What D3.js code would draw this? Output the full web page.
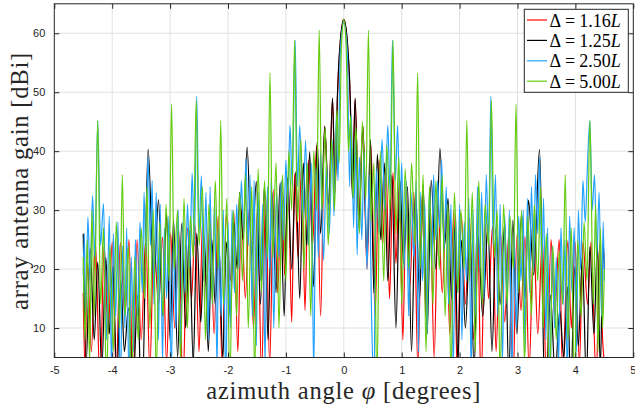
<!DOCTYPE html>
<html>
<head>
<meta charset="utf-8">
<script src="https://cdn.jsdelivr.net/npm/d3@7/dist/d3.min.js"></script>
<style>
  body { margin: 0; background: #fff; }
  svg { display: block; }
</style>
</head>
<body>
<script>
// tick values
const xTicks = [-5, -4, -3, -2, -1, 0, 1, 2, 3, 4, 5]
const yTicks = [10, 20, 30, 40, 50, 60]

// legend entries
const labels = ['1.16', '1.25', '2.50', '5.00']

// [azimuth deg, gain dBi] (peaks and nulls)
const red116 = [
  [-4.5,16],[-4.47,3],[-4.43,21],[-4.36,6],[-4.29,24.4],[-4.21,0],[-4.14,24],[-4.07,9],[-4.0,24.6],[-3.93,2],
  [-3.86,24.5],[-3.78,12],[-3.71,25],[-3.64,0],[-3.57,25],[-3.5,8],[-3.42,25.2],[-3.35,3],[-3.28,25],[-3.2,14],
  [-3.13,25.4],[-3.06,4],[-2.99,26],[-2.92,10],[-2.85,26.5],[-2.78,0],[-2.7,27],[-2.63,15],[-2.57,27.5],[-2.5,6],
  [-2.44,28],[-2.37,17],[-2.31,28.4],[-2.24,9],[-2.17,29],[-2.1,3],[-2.03,29.3],[-1.96,18],[-1.9,29.7],[-1.83,6],
  [-1.77,30],[-1.7,15],[-1.63,30.5],[-1.56,10],[-1.49,30.5],[-1.42,2],[-1.35,32.5],[-1.28,4],[-1.21,33.5],[-1.14,16],
  [-1.08,34.8],[-1.02,19],[-0.96,35.5],[-0.9,11],[-0.85,36.2],[-0.79,22],[-0.73,37.5],[-0.67,13],[-0.61,38.5],[-0.54,24],
  [-0.47,41],[-0.4,12],[-0.33,44.2],[-0.26,30],[-0.195,48.8],[-0.15,33],[-0.11,49],[-0.06,58.5],[0,62.3],
  [0.06,58.5],[0.11,49],[0.15,33],[0.195,48.8],[0.26,29],[0.33,44.2],[0.4,20],[0.47,41],[0.54,12],[0.61,38.5],
  [0.67,24],[0.73,37.2],[0.79,15],[0.85,36.4],[0.9,21],[0.96,35.2],[1.02,8],[1.08,34.5],[1.14,17],[1.21,33],
  [1.28,3],[1.35,32.4],[1.42,12],[1.49,31.5],[1.56,5],[1.63,30.8],[1.7,16],[1.77,30.2],[1.83,9],[1.9,30],
  [1.96,2],[2.03,29.2],[2.1,14],[2.17,28.6],[2.24,8],[2.31,28.3],[2.37,0],[2.44,27.8],[2.5,15],[2.57,27.3],
  [2.63,6],[2.7,26.8],[2.78,11],[2.85,26.2],[2.92,0],[2.99,25.8],[3.06,13],[3.13,25.5],[3.2,3],[3.28,25.3],
  [3.35,9],[3.43,25.2],[3.5,0],[3.58,25],[3.64,12],[3.72,25],[3.78,2],[3.87,24.8],[3.93,10],[3.99,24.8],
  [4.07,4],[4.13,24.6],[4.21,14],[4.27,24.6],[4.36,1],[4.42,24.4],[4.47,8],[4.5,4]
]

const black125 = [
  [-4.5,26],[-4.45,4],[-4.38,23.5],[-4.31,8],[-4.25,21.2],[-4.18,3],[-4.11,22],[-4.05,9],[-3.99,20.4],[-3.92,2],
  [-3.85,18.1],[-3.79,6],[-3.72,13.4],[-3.64,0],[-3.56,15.6],[-3.49,-5],[-3.38,40.3],[-3.28,18],[-3.2,31.8],[-3.13,12],
  [-3.06,29.4],[-3.0,8],[-2.94,28.3],[-2.87,5],[-2.8,27.7],[-2.73,10],[-2.67,26.5],[-2.6,4],[-2.54,26.1],[-2.47,11],
  [-2.41,25.5],[-2.34,6],[-2.28,25],[-2.22,14],[-2.16,24.8],[-2.09,5],[-2.03,24.6],[-1.96,12],[-1.9,28],[-1.84,20],
  [-1.8,33],[-1.74,25],[-1.67,40.7],[-1.59,22],[-1.51,34.9],[-1.44,14],[-1.37,34.2],[-1.31,8],[-1.24,33],[-1.17,16],
  [-1.1,34.6],[-1.03,12],[-0.97,35.5],[-0.9,20],[-0.83,36.5],[-0.76,15],[-0.7,38],[-0.64,24],[-0.59,39.9],[-0.52,17],
  [-0.46,41.6],[-0.4,26],[-0.33,44.2],[-0.26,31],[-0.195,49],[-0.15,34],[-0.11,49.5],[-0.06,58.7],[0,62.3],
  [0.06,58.7],[0.11,49.5],[0.15,32],[0.195,49],[0.26,27],[0.33,44.2],[0.4,22],[0.46,42],[0.52,16],[0.58,39.5],
  [0.64,25],[0.7,38],[0.76,18],[0.83,36],[0.9,10],[0.97,35],[1.03,21],[1.1,34],[1.17,6],[1.24,33],
  [1.31,15],[1.37,34.3],[1.44,9],[1.51,35.1],[1.59,20],[1.66,40.5],[1.74,24],[1.8,32],[1.86,15],[1.92,27],
  [1.97,4],[2.03,24.9],[2.1,10],[2.18,26.1],[2.25,3],[2.32,25.5],[2.4,12],[2.49,27.5],[2.56,6],[2.63,27],
  [2.7,14],[2.78,27.8],[2.85,2],[2.92,28.3],[2.99,9],[3.07,29.4],[3.13,15],[3.19,31.7],[3.28,19],[3.38,40.3],
  [3.48,-5],[3.57,15.6],[3.65,2],[3.73,13],[3.8,5],[3.86,17],[3.92,0],[3.99,20.4],[4.05,7],[4.12,22],
  [4.19,1],[4.25,23.8],[4.32,9],[4.38,24.3],[4.43,3],[4.48,24.5],[4.5,20]
]

const blue250 = [
  [-4.5,19],[-4.48,26],[-4.46,12],[-4.42,28.8],[-4.38,18],[-4.34,32.5],[-4.3,22],[-4.25,45.2],[-4.2,24],[-4.15,31.1],
  [-4.1,8],[-4.05,29],[-4.01,2],[-3.98,26],[-3.94,12],[-3.9,28],[-3.86,-2],[-3.82,24],[-3.78,10],[-3.75,27],
  [-3.71,0],[-3.67,22],[-3.63,6],[-3.6,25],[-3.56,12],[-3.52,28],[-3.48,16],[-3.45,33],[-3.42,22],[-3.38,39],
  [-3.34,24],[-3.31,35],[-3.28,14],[-3.24,33],[-3.2,8],[-3.17,31],[-3.13,4],[-3.1,27],[-3.06,15],[-3.02,29],
  [-2.98,2],[-2.94,26],[-2.9,10],[-2.86,30],[-2.82,6],[-2.78,28],[-2.74,16],[-2.7,31],[-2.66,20],[-2.62,36.3],
  [-2.58,24],[-2.54,49.3],[-2.5,26],[-2.46,35.8],[-2.42,18],[-2.38,33],[-2.34,8],[-2.31,34],[-2.27,14],[-2.23,32],
  [-2.19,3],[-2.16,27],[-2.12,12],[-2.08,30],[-2.04,0],[-2.0,28],[-1.96,10],[-1.93,30],[-1.89,16],[-1.85,31],
  [-1.81,20],[-1.77,35],[-1.73,26],[-1.69,38.8],[-1.65,24],[-1.62,36],[-1.58,12],[-1.55,35],[-1.51,7],[-1.48,33],
  [-1.44,18],[-1.4,31],[-1.36,4],[-1.32,34],[-1.28,20],[-1.25,36],[-1.21,10],[-1.16,33],[-1.12,22],[-1.08,35],
  [-1.04,25],[-1.0,38.5],[-0.97,30],[-0.93,44.4],[-0.89,34],[-0.84,58.8],[-0.8,34],[-0.76,44.4],[-0.71,28],[-0.66,41.8],
  [-0.61,24],[-0.56,38],[-0.52,2],[-0.48,37],[-0.44,22],[-0.4,40],[-0.35,21.5],[-0.3,38],[-0.25,26],[-0.2,42],
  [-0.17,29],[-0.13,46],[-0.1,35],[-0.06,57],[0,61.8],
  [0.06,57],[0.1,34],[0.13,46],[0.17,27],[0.2,42],[0.23,22.4],[0.27,39],[0.31,25],[0.35,40],[0.4,20],
  [0.44,36],[0.48,12],[0.52,0],[0.56,37],[0.61,26],[0.66,42],[0.71,30],[0.76,44.4],[0.8,33],[0.84,58.8],
  [0.89,35],[0.93,44.4],[0.97,28],[1.0,38],[1.04,20],[1.08,35],[1.12,12],[1.16,33],[1.21,22],[1.25,35],
  [1.29,6],[1.32,33],[1.36,18],[1.4,31],[1.44,9],[1.48,34],[1.52,20],[1.55,36],[1.59,25],[1.62,35],
  [1.66,27],[1.69,38.5],[1.73,23],[1.77,34],[1.81,14],[1.85,31],[1.89,3],[1.93,29],[1.97,16],[2.0,31],
  [2.04,8],[2.08,28],[2.12,18],[2.16,32],[2.2,2],[2.23,30],[2.27,12],[2.31,34],[2.35,20],[2.38,33],
  [2.42,15],[2.46,36],[2.5,25],[2.54,49.3],[2.58,24],[2.62,36],[2.66,12],[2.7,31],[2.74,4],[2.78,29],
  [2.82,14],[2.86,30],[2.9,0],[2.94,26],[2.98,10],[3.02,29],[3.06,18],[3.1,30],[3.13,6],[3.17,32],
  [3.21,16],[3.24,34],[3.28,20],[3.31,36],[3.35,26],[3.38,39],[3.42,20],[3.45,32],[3.49,8],[3.52,27],
  [3.56,-2],[3.6,24],[3.64,10],[3.67,22],[3.71,4],[3.75,27],[3.79,14],[3.82,25],[3.86,2],[3.9,29],
  [3.94,16],[3.98,27],[4.02,6],[4.05,30],[4.09,20],[4.13,35],[4.17,28],[4.21,38],[4.25,45.2],[4.29,30],
  [4.33,36],[4.37,22],[4.41,33],[4.45,12],[4.48,28],[4.5,18]
]

const green500 = [
  [-4.5,22],[-4.47,8],[-4.43,25],[-4.39,4],[-4.35,30],[-4.31,12],[-4.25,45.2],[-4.2,14],[-4.15,27],[-4.1,0],
  [-4.04,24],[-3.98,6],[-3.93,28],[-3.87,10],[-3.825,36],[-3.78,12],[-3.72,24],[-3.67,-2],[-3.61,22],[-3.55,8],
  [-3.5,27],[-3.44,15],[-3.4,34],[-3.35,10],[-3.29,30],[-3.24,2],[-3.18,28],[-3.12,12],[-3.07,31],[-3.02,18],
  [-2.975,48],[-2.93,20],[-2.87,30],[-2.82,4],[-2.76,32],[-2.7,10],[-2.65,29],[-2.6,22],[-2.55,48.6],[-2.5,24],
  [-2.44,34],[-2.39,8],[-2.33,31],[-2.27,14],[-2.22,35],[-2.17,20],[-2.125,45.2],[-2.08,14],[-2.02,32],[-1.97,0],
  [-1.91,30],[-1.85,12],[-1.8,33],[-1.75,18],[-1.7,36],[-1.65,10],[-1.59,34],[-1.54,2],[-1.48,37],[-1.42,16],
  [-1.37,35],[-1.32,22],[-1.275,53.3],[-1.23,22],[-1.17,38],[-1.12,10],[-1.06,36],[-1.0,18],[-0.95,40],[-0.9,30],
  [-0.85,58.8],[-0.8,28],[-0.74,42],[-0.69,20],[-0.63,38],[-0.57,12],[-0.52,40],[-0.47,30],[-0.425,60.5],[-0.38,30],
  [-0.32,44],[-0.27,24],[-0.21,42],[-0.16,30],[-0.12,47],[-0.08,38],[-0.04,58],[0,62.3],
  [0.04,58],[0.08,40],[0.12,46],[0.16,32],[0.21,44],[0.27,26],[0.32,45],[0.38,32],[0.425,60.5],[0.47,28],
  [0.52,38],[0.57,0],[0.63,40],[0.69,18],[0.74,41],[0.8,30],[0.85,58.8],[0.9,26],[0.95,39],[1.0,14],
  [1.06,37],[1.12,20],[1.17,38],[1.23,24],[1.275,53.3],[1.32,20],[1.37,36],[1.42,6],[1.48,34],[1.54,14],
  [1.59,35],[1.65,20],[1.7,36],[1.75,12],[1.8,31],[1.85,2],[1.91,33],[1.97,16],[2.02,30],[2.08,20],
  [2.125,45.2],[2.17,18],[2.22,33],[2.27,6],[2.33,35],[2.39,14],[2.44,31],[2.5,24],[2.55,48.6],[2.6,22],
  [2.65,30],[2.7,2],[2.76,31],[2.82,14],[2.87,29],[2.93,20],[2.975,48],[3.02,16],[3.07,30],[3.12,4],
  [3.18,29],[3.24,12],[3.29,31],[3.35,18],[3.4,34],[3.44,10],[3.5,26],[3.55,-2],[3.61,24],[3.67,8],
  [3.72,23],[3.78,14],[3.825,36],[3.87,8],[3.93,27],[3.98,0],[4.04,25],[4.1,12],[4.15,28],[4.2,18],
  [4.25,45.2],[4.31,14],[4.35,31],[4.39,6],[4.43,27],[4.47,10],[4.5,20]
]

const series = [
  { data: red116, color: '#ff0000' },
  { data: black125, color: '#000000' },
  { data: blue250, color: '#22a2ff' },
  { data: green500, color: '#62cc0c' }
]

const box = { width: 635, height: 412, left: 54.3, right: 633.3, top: 3.8, bottom: 357.5 }
const axisColor = '#262626'

const svg = d3.select('body').append('svg')
  .attr('width', box.width).attr('height', box.height)

const x = d3.scaleLinear().domain([-5, 5]).range([box.left, box.right])
const y = d3.scaleLinear().domain([5, 65]).range([box.bottom, box.top])

svg.append('defs').append('clipPath').attr('id', 'plot')
  .append('rect')
  .attr('x', box.left).attr('y', box.top)
  .attr('width', box.right - box.left).attr('height', box.bottom - box.top)

// grid
const grid = svg.append('g').attr('stroke', '#e1e1e1').attr('stroke-width', 1)
grid.selectAll('.gx').data(xTicks.slice(1, -1)).enter().append('line')
  .attr('x1', d => x(d)).attr('x2', d => x(d))
  .attr('y1', box.top).attr('y2', box.bottom)
grid.selectAll('.gy').data(yTicks).enter().append('line')
  .attr('x1', box.left).attr('x2', box.right)
  .attr('y1', d => y(d)).attr('y2', d => y(d))

// curves
const line = d3.line()
  .x(d => x(d[0]))
  .y(d => y(d[1]))
  .curve(d3.curveMonotoneX)

svg.append('g').attr('clip-path', 'url(#plot)')
  .selectAll('path').data(series).enter().append('path')
  .attr('d', d => line(d.data))
  .attr('fill', 'none')
  .attr('stroke', d => d.color)
  .attr('stroke-width', 1.2)
  .attr('stroke-linejoin', 'round')

// axes, ticks inside, box on
function styleAxis(g) {
  g.select('.domain').remove()
  g.selectAll('line').attr('stroke', axisColor)
  g.selectAll('text').attr('fill', axisColor)
    .style('font-family', '"Liberation Sans", Arial, sans-serif')
    .style('font-size', '11px')
}

svg.append('g').attr('transform', `translate(0,${box.bottom})`)
  .call(d3.axisBottom(x).tickValues(xTicks).tickSize(-5).tickPadding(9).tickFormat(d => String(d)))
  .call(styleAxis)
  .call(g => g.selectAll('.tick:last-of-type text').attr('text-anchor', 'end').attr('x', 2.5))
svg.append('g').attr('transform', `translate(0,${box.top})`)
  .call(d3.axisTop(x).tickValues(xTicks).tickSize(-5).tickFormat(''))
  .call(styleAxis)
svg.append('g').attr('transform', `translate(${box.left},0)`)
  .call(d3.axisLeft(y).tickValues(yTicks).tickSize(-5).tickPadding(9).tickFormat(d => String(d)))
  .call(styleAxis)
svg.append('g').attr('transform', `translate(${box.right},0)`)
  .call(d3.axisRight(y).tickValues(yTicks).tickSize(-5).tickFormat(''))
  .call(styleAxis)

svg.append('rect')
  .attr('x', box.left).attr('y', box.top)
  .attr('width', box.right - box.left).attr('height', box.bottom - box.top)
  .attr('fill', 'none').attr('stroke', axisColor).attr('stroke-width', 1)

// axis titles
const serif = '"Liberation Serif", "Times New Roman", serif'
const xTitle = svg.append('text')
  .attr('x', (box.left + box.right) / 2).attr('y', 399)
  .attr('text-anchor', 'middle')
  .style('font-family', serif).style('font-size', '24.5px').style('letter-spacing', '0.8px')
  .attr('fill', axisColor)
xTitle.append('tspan').text('azimuth angle ')
xTitle.append('tspan').style('font-style', 'italic').text('φ')
xTitle.append('tspan').text(' [degrees]')

svg.append('text')
  .attr('transform', `translate(28,181) rotate(-90)`)
  .attr('text-anchor', 'middle')
  .style('font-family', serif).style('font-size', '24.5px').style('letter-spacing', '0.8px')
  .attr('fill', axisColor)
  .text('array antenna gain [dBi]')

// legend
const legend = svg.append('g')
legend.append('rect')
  .attr('x', 524.3).attr('y', 9.3).attr('width', 104).attr('height', 83)
  .attr('fill', '#fff').attr('stroke', axisColor).attr('stroke-width', 1)

const rows = legend.selectAll('g.row').data(series).enter().append('g')
  .attr('transform', (d, i) => `translate(0,${20 + i * 20.4})`)
rows.append('line')
  .attr('x1', 527).attr('x2', 547)
  .attr('stroke', d => d.color).attr('stroke-width', 1.2)
const lt = rows.append('text')
  .attr('x', 549.5).attr('y', 6.5)
  .style('font-family', serif).style('font-size', '18px').attr('fill', '#000')
lt.append('tspan').text('Δ')
lt.append('tspan').attr('dx', 4).text('=')
lt.append('tspan').attr('dx', 4).text((d, i) => labels[i])
lt.append('tspan').style('font-style', 'italic').text('L')
</script>
</body>
</html>
